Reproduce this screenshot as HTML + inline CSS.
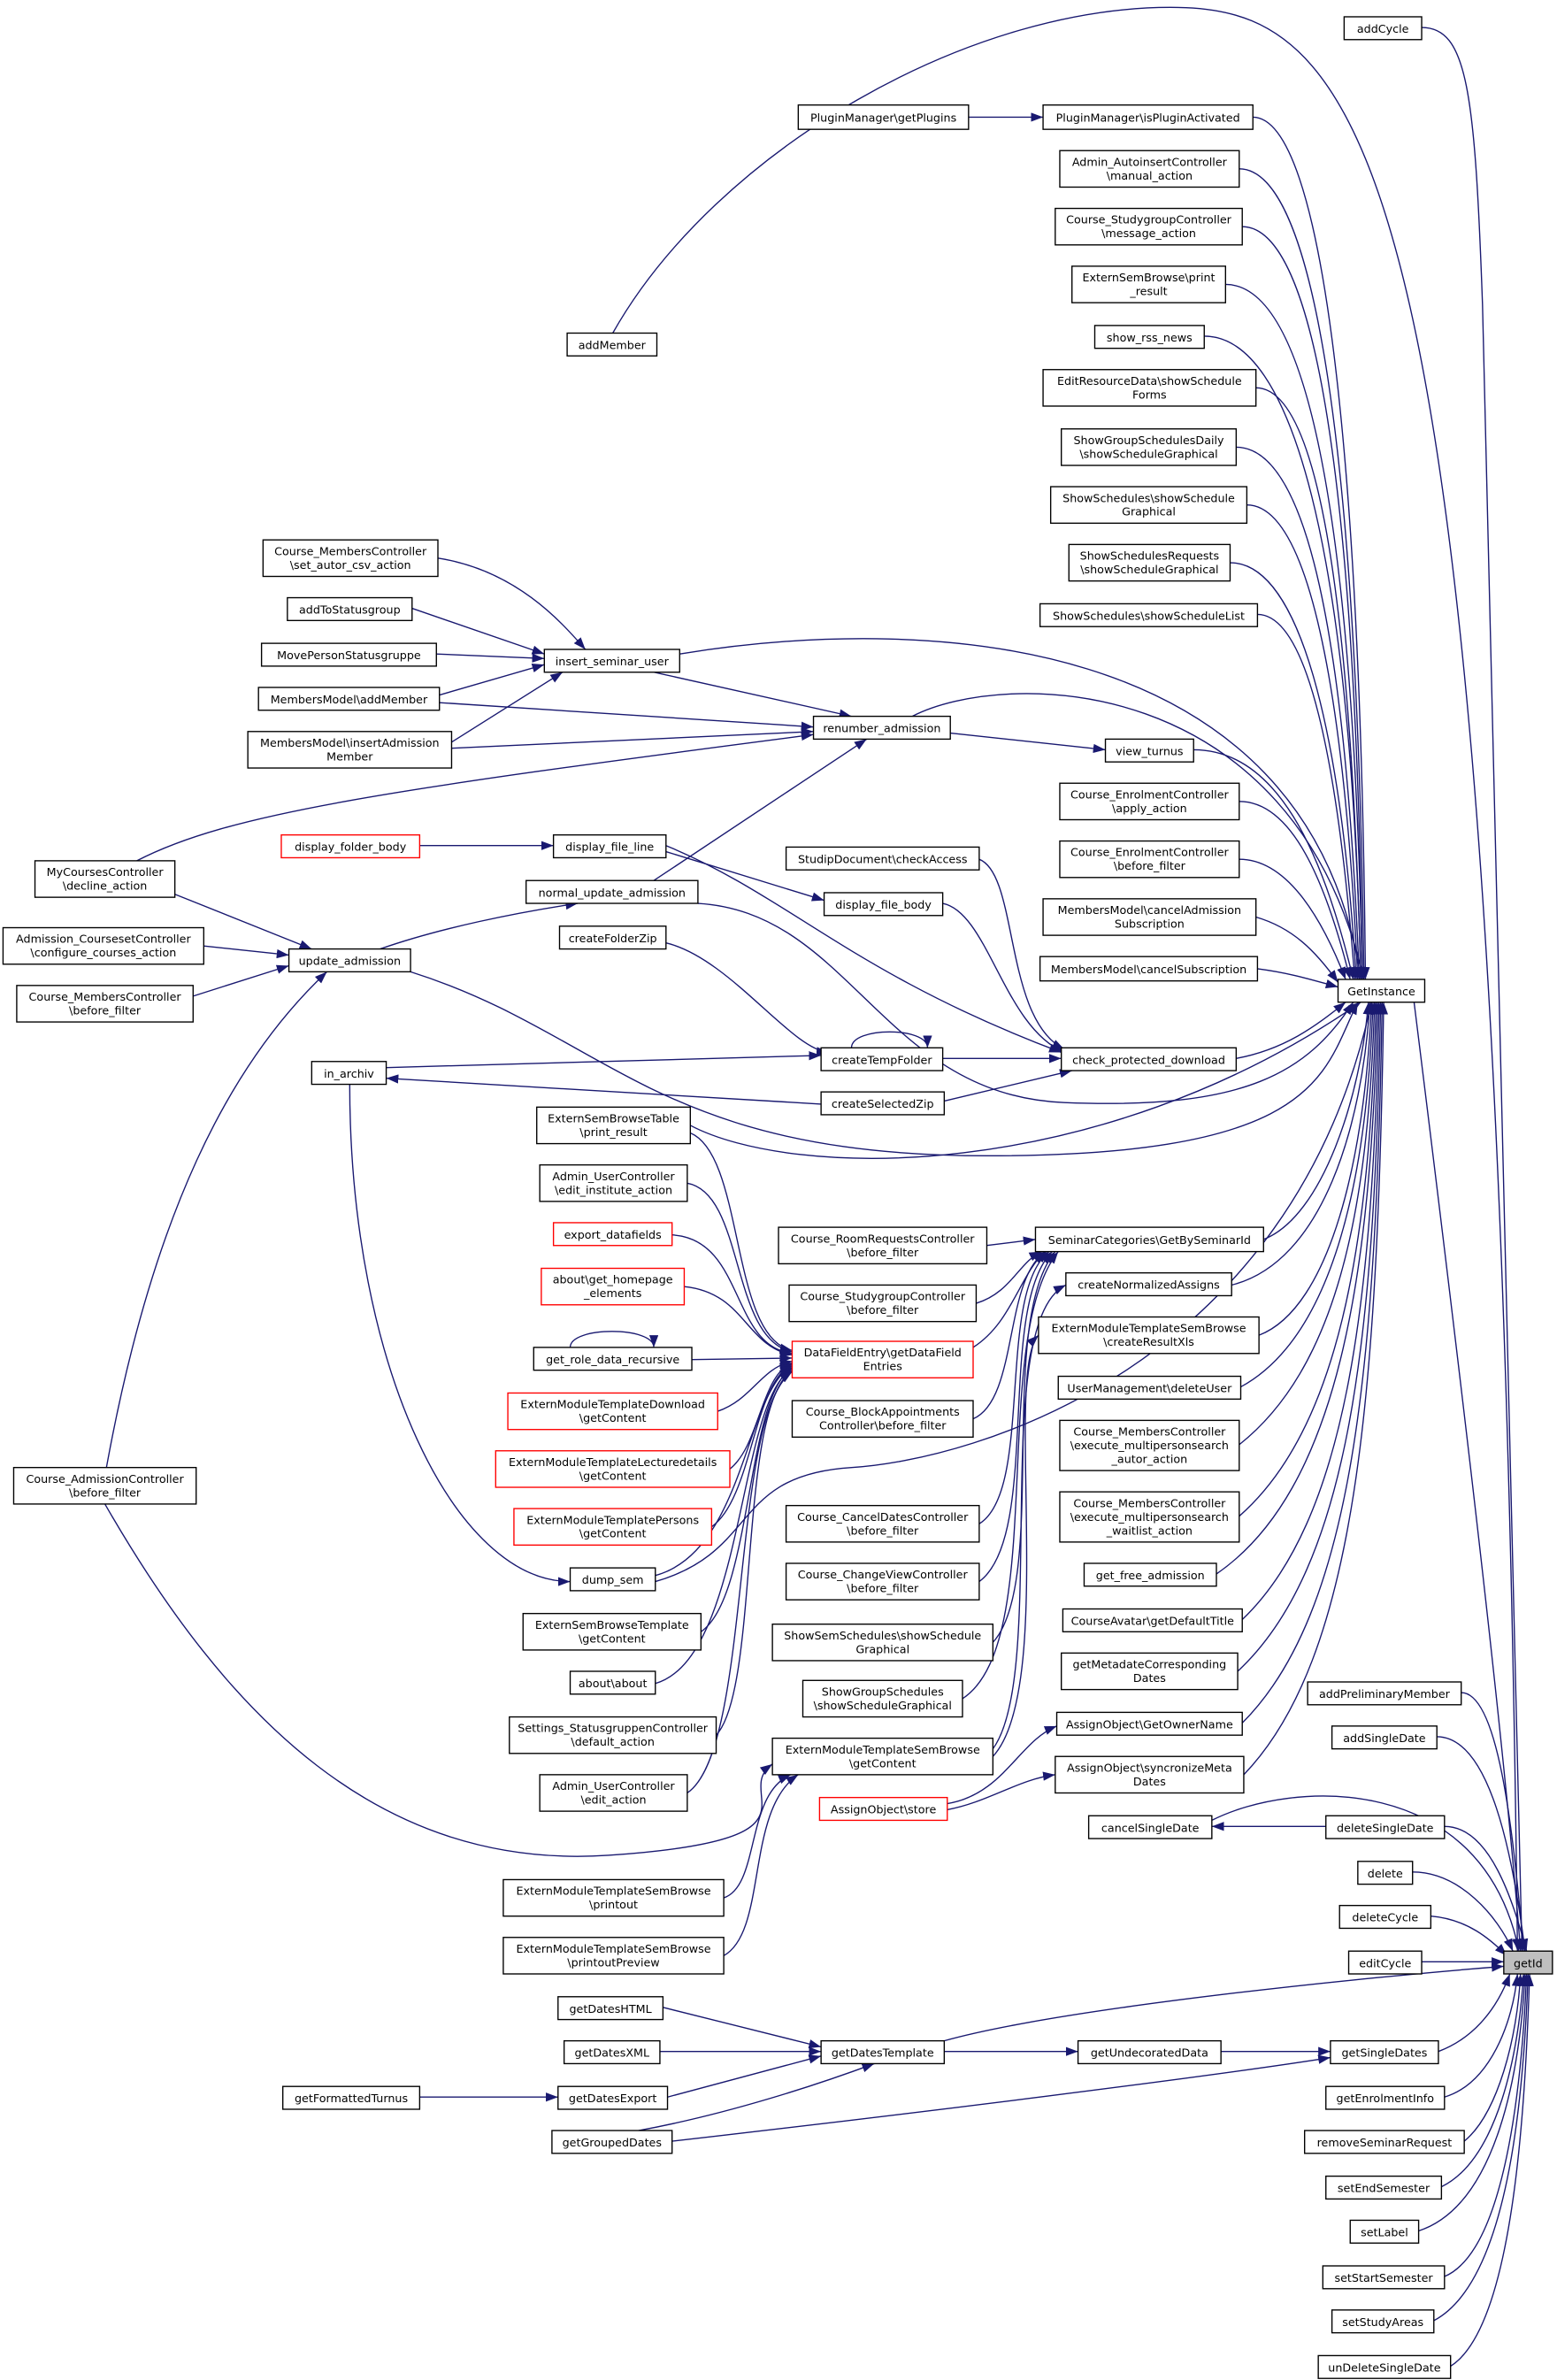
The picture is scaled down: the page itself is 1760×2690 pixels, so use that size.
<!DOCTYPE html>
<html><head><meta charset="utf-8"><style>
html,body{margin:0;padding:0;background:#fff}
svg{display:block}
text{font-family:"DejaVu Sans","Liberation Sans",sans-serif;font-size:7.4px;text-anchor:middle;fill:#000}
.n{fill:#fff;stroke:#000;stroke-width:0.8}
.r{fill:#fff;stroke:#f00;stroke-width:0.8}
.e{fill:none;stroke:#191970;stroke-width:0.8;marker-end:url(#a)}
</style></head><body>
<svg width="1760" height="2690" viewBox="0 0 1024 1565" xmlns="http://www.w3.org/2000/svg">
<defs><marker id="a" markerUnits="userSpaceOnUse" markerWidth="8" markerHeight="6" refX="8" refY="3" orient="auto"><path d="M0,0 L8,3 L0,6 z" fill="#191970"/></marker></defs>
<g>
<!-- to GetInstance from above -->
<path class="e" d="M824 77 C870 77, 895 300, 898 644"/>
<path class="e" d="M815 111 C865 111, 893 300, 897 644"/>
<path class="e" d="M817 149 C865 149, 892 320, 896 644"/>
<path class="e" d="M806 187 C860 187, 890 340, 896 644"/>
<path class="e" d="M792 221 C850 221, 888 360, 895 644"/>
<path class="e" d="M826 255 C865 255, 888 380, 895 644"/>
<path class="e" d="M813 294 C860 294, 885 420, 894 644"/>
<path class="e" d="M820 332 C860 332, 884 450, 893 644"/>
<path class="e" d="M809 370 C855 370, 882 480, 892 644"/>
<path class="e" d="M827 404 C860 404, 880 500, 891 644"/>
<path class="e" d="M785 493 C840 493, 870 560, 890 644"/>
<path class="e" d="M815 527 C850 527, 872 580, 888 644"/>
<path class="e" d="M815 565 C845 565, 868 600, 885 644"/>
<path class="e" d="M826 603 C850 610, 865 625, 880 646"/>
<path class="e" d="M827 637 C850 640, 865 645, 880 649"/>
<path class="e" d="M447 430 C600 405, 860 410, 895 644"/>
<path class="e" d="M600 471 C660 440, 850 440, 897 644"/>
<!-- to GetInstance from below -->
<path class="e" d="M813 696 C845 690, 865 675, 885 659"/>
<path class="e" d="M459 594 C560 600, 580 720, 700 725 S 860 705, 890 659"/>
<path class="e" d="M270 639 C400 680, 430 760, 650 760 S 870 705, 893 659"/>
<path class="e" d="M454 740 C520 775, 720 780, 895 659"/>
<path class="e" d="M831 815 C870 800, 895 720, 900 659"/>
<path class="e" d="M810 845 C870 830, 896 740, 901 659"/>
<path class="e" d="M828 878 C875 860, 898 760, 902 659"/>
<path class="e" d="M816 912 C875 880, 899 780, 903 659"/>
<path class="e" d="M815 950 C878 900, 900 800, 904 659"/>
<path class="e" d="M815 997 C880 940, 901 820, 905 659"/>
<path class="e" d="M800 1035 C880 980, 902 840, 906 659"/>
<path class="e" d="M817 1065 C885 1000, 903 860, 907 659"/>
<path class="e" d="M814 1099 C888 1030, 904 880, 908 659"/>
<path class="e" d="M817 1133 C890 1060, 905 900, 909 659"/>
<path class="e" d="M818 1167 C892 1090, 906 920, 910 659"/>
<path class="e" d="M431 1040 C500 1020, 480 970, 560 965 S 850 900, 902 659"/>
<!-- to getId -->
<path class="e" d="M930 659 C960 900, 990 1150, 1000 1283"/>
<path class="e" d="M935 18 C965 18, 970 60, 975 200 L1001 1283"/>
<path class="e" d="M403 219 C470 100, 640 0, 780 5 C900 10, 985 120, 998 1283"/>
<path class="e" d="M961 1113 C985 1113, 995 1200, 1002 1283"/>
<path class="e" d="M945 1142 C980 1142, 995 1220, 1003 1283"/>
<path class="e" d="M797 1197 C850 1170, 975 1165, 999 1283"/>
<path class="e" d="M950 1201 C980 1201, 995 1250, 1004 1283"/>
<path class="e" d="M929 1231 C960 1231, 985 1260, 995 1283"/>
<path class="e" d="M941 1260 C965 1262, 980 1275, 991 1286"/>
<path class="e" d="M935 1290 L989 1290"/>
<path class="e" d="M621 1342 C700 1320, 900 1300, 989 1293"/>
<path class="e" d="M946 1349 C970 1340, 985 1320, 993 1298"/>
<path class="e" d="M950 1379 C980 1370, 995 1330, 998 1298"/>
<path class="e" d="M963 1408 C985 1390, 998 1340, 1000 1298"/>
<path class="e" d="M948 1438 C985 1420, 999 1350, 1002 1298"/>
<path class="e" d="M933 1467 C985 1450, 1000 1360, 1003 1298"/>
<path class="e" d="M950 1497 C990 1480, 1001 1370, 1004 1298"/>
<path class="e" d="M943 1526 C992 1500, 1002 1380, 1005 1298"/>
<path class="e" d="M954 1556 C995 1530, 1003 1390, 1006 1298"/>
<path class="e" d="M872 1201 L797 1201"/>
<path class="e" d="M803 1349 L875 1349"/>
<path class="e" d="M621 1349 L709 1349"/>
<path class="e" d="M442 1408 C600 1390, 800 1365, 875 1353"/>
<path class="e" d="M436 1320 L540 1346"/>
<path class="e" d="M434 1349 L540 1349"/>
<path class="e" d="M439 1379 L540 1352"/>
<path class="e" d="M420 1401 C480 1390, 540 1370, 575 1357"/>
<path class="e" d="M276 1379 L367 1379"/>
<!-- assign/store -->
<path class="e" d="M623 1186 C660 1180, 670 1145, 695 1135"/>
<path class="e" d="M623 1190 C650 1185, 670 1170, 694 1167"/>
<path class="e" d="M476 1248 C500 1240, 490 1180, 520 1167"/>
<path class="e" d="M476 1286 C505 1270, 490 1190, 525 1167"/>
<path class="e" d="M653 1150 C690 1100, 650 870, 701 845"/>
<path class="e" d="M653 1155 C695 1110, 660 900, 683 878"/>
<!-- to SeminarCategories -->
<path class="e" d="M649 819 L681 815"/>
<path class="e" d="M642 857 C665 850, 670 830, 685 823"/>
<path class="e" d="M640 933 C670 920, 660 840, 688 823"/>
<path class="e" d="M644 1002 C680 980, 655 850, 690 823"/>
<path class="e" d="M644 1040 C685 1010, 655 860, 692 823"/>
<path class="e" d="M653 1080 C690 1040, 655 870, 694 823"/>
<path class="e" d="M633 1117 C690 1080, 650 880, 696 823"/>
<path class="e" d="M640 886 C665 870, 670 840, 687 823"/>
<path class="e" d="M69 989 C150 1130, 250 1230, 400 1220 S 480 1180, 508 1160"/>
<!-- to DataFieldEntry -->
<path class="e" d="M454 745 C490 760, 480 880, 521 888"/>
<path class="e" d="M452 778 C490 785, 480 880, 521 889"/>
<path class="e" d="M442 812 C490 815, 480 885, 521 890"/>
<path class="e" d="M450 846 C490 850, 490 885, 521 891"/>
<path class="e" d="M455 894 L521 893"/>
<path class="e" d="M472 928 C495 920, 500 900, 521 895"/>
<path class="e" d="M480 966 C500 950, 500 905, 521 896"/>
<path class="e" d="M468 1004 C495 985, 495 910, 521 897"/>
<path class="e" d="M431 1036 C490 1020, 490 915, 521 898"/>
<path class="e" d="M461 1073 C495 1050, 490 920, 521 899"/>
<path class="e" d="M431 1107 C490 1090, 485 920, 521 900"/>
<path class="e" d="M471 1141 C500 1110, 485 925, 521 901"/>
<path class="e" d="M452 1179 C495 1150, 480 930, 521 902"/>
<!-- left groups -->
<path class="e" d="M288 367 C340 375, 370 410, 385 427"/>
<path class="e" d="M271 400 L358 430"/>
<path class="e" d="M287 430 L358 433"/>
<path class="e" d="M289 457 L358 437"/>
<path class="e" d="M289 462 L535 478"/>
<path class="e" d="M297 488 L370 442"/>
<path class="e" d="M297 492 L535 481"/>
<path class="e" d="M430 442 L560 471"/>
<path class="e" d="M90 566 C150 535, 250 520, 535 483"/>
<path class="e" d="M115 588 L205 624"/>
<path class="e" d="M134 622 L190 628"/>
<path class="e" d="M127 655 L190 635"/>
<path class="e" d="M70 965 C100 800, 150 700, 215 639"/>
<path class="e" d="M250 624 C290 610, 340 600, 380 594"/>
<path class="e" d="M430 579 L570 486"/>
<path class="e" d="M276 556 L364 556"/>
<path class="e" d="M438 560 L542 592"/>
<path class="e" d="M438 556 C520 590, 560 640, 698 692"/>
<path class="e" d="M644 565 C670 575, 660 670, 700 690"/>
<path class="e" d="M620 594 C650 600, 660 675, 700 692"/>
<path class="e" d="M438 620 C480 630, 520 690, 545 692"/>
<path class="e" d="M620 696 L698 696"/>
<path class="e" d="M621 724 L705 704"/>
<path class="e" d="M254 702 L540 694"/>
<path class="e" d="M540 726 L254 709"/>
<path class="e" d="M230 713 C230 900, 300 1040, 375 1040"/>
<path class="e" d="M625 482 L727 493"/>
<path class="e" d="M637 77 L686 77"/>
<path class="e" d="M560 689 C560 675, 610 675, 610 689"/>
<path class="e" d="M375 886 C375 872, 430 872, 430 886"/>
</g>
<g>
<rect class="n" x="884" y="11" width="51" height="15"/><text x="909.5" y="21.5">addCycle</text>
<rect class="n" x="525" y="69" width="112" height="16"/><text x="581" y="80">PluginManager\getPlugins</text>
<rect class="n" x="686" y="69" width="138" height="16"/><text x="755" y="80">PluginManager\isPluginActivated</text>
<rect class="n" x="697" y="99" width="118" height="24"/><text x="756" y="109">Admin_AutoinsertController</text><text x="756" y="118">\manual_action</text>
<rect class="n" x="694" y="137" width="123" height="24"/><text x="755.5" y="147">Course_StudygroupController</text><text x="755.5" y="156">\message_action</text>
<rect class="n" x="705" y="175" width="101" height="24"/><text x="755.5" y="185">ExternSemBrowse\print</text><text x="755.5" y="194">_result</text>
<rect class="n" x="720" y="214" width="72" height="15"/><text x="756" y="224.5">show_rss_news</text>
<rect class="n" x="686" y="243" width="140" height="24"/><text x="756" y="253">EditResourceData\showSchedule</text><text x="756" y="262">Forms</text>
<rect class="n" x="698" y="282" width="115" height="24"/><text x="755.5" y="292">ShowGroupSchedulesDaily</text><text x="755.5" y="301">\showScheduleGraphical</text>
<rect class="n" x="691" y="320" width="129" height="24"/><text x="755.5" y="330">ShowSchedules\showSchedule</text><text x="755.5" y="339">Graphical</text>
<rect class="n" x="703" y="358" width="106" height="24"/><text x="756" y="368">ShowSchedulesRequests</text><text x="756" y="377">\showScheduleGraphical</text>
<rect class="n" x="684" y="397" width="143" height="15"/><text x="755.5" y="407.5">ShowSchedules\showScheduleList</text>
<rect class="n" x="727" y="486" width="58" height="15"/><text x="756" y="496.5">view_turnus</text>
<rect class="n" x="697" y="515" width="118" height="24"/><text x="756" y="525">Course_EnrolmentController</text><text x="756" y="534">\apply_action</text>
<rect class="n" x="697" y="553" width="118" height="24"/><text x="756" y="563">Course_EnrolmentController</text><text x="756" y="572">\before_filter</text>
<rect class="n" x="686" y="591" width="140" height="24"/><text x="756" y="601">MembersModel\cancelAdmission</text><text x="756" y="610">Subscription</text>
<rect class="n" x="684" y="629" width="143" height="16"/><text x="755.5" y="640">MembersModel\cancelSubscription</text>
<rect class="n" x="880" y="644" width="57" height="15"/><text x="908.5" y="654.5">GetInstance</text>
<rect class="n" x="698" y="689" width="115" height="15"/><text x="755.5" y="699.5">check_protected_download</text>
<rect class="n" x="681" y="807" width="150" height="16"/><text x="756" y="818">SeminarCategories\GetBySeminarId</text>
<rect class="n" x="701" y="837" width="109" height="15"/><text x="755.5" y="847.5">createNormalizedAssigns</text>
<rect class="n" x="683" y="866" width="145" height="24"/><text x="755.5" y="876">ExternModuleTemplateSemBrowse</text><text x="755.5" y="885">\createResultXls</text>
<rect class="n" x="696" y="905" width="120" height="15"/><text x="756" y="915.5">UserManagement\deleteUser</text>
<rect class="n" x="697" y="934" width="118" height="33"/><text x="756" y="944">Course_MembersController</text><text x="756" y="953">\execute_multipersonsearch</text><text x="756" y="962">_autor_action</text>
<rect class="n" x="697" y="981" width="118" height="33"/><text x="756" y="991">Course_MembersController</text><text x="756" y="1000">\execute_multipersonsearch</text><text x="756" y="1009">_waitlist_action</text>
<rect class="n" x="713" y="1028" width="87" height="15"/><text x="756.5" y="1038.5">get_free_admission</text>
<rect class="n" x="699" y="1058" width="118" height="15"/><text x="758" y="1068.5">CourseAvatar\getDefaultTitle</text>
<rect class="n" x="698" y="1087" width="116" height="24"/><text x="756" y="1097">getMetadateCorresponding</text><text x="756" y="1106">Dates</text>
<rect class="n" x="695" y="1126" width="122" height="15"/><text x="756" y="1136.5">AssignObject\GetOwnerName</text>
<rect class="n" x="694" y="1155" width="124" height="24"/><text x="756" y="1165">AssignObject\syncronizeMeta</text><text x="756" y="1174">Dates</text>
<rect class="r" x="539" y="1182" width="84" height="15"/><text x="581" y="1192.5">AssignObject\store</text>
<rect class="n" x="860" y="1106" width="101" height="15"/><text x="910.5" y="1116.5">addPreliminaryMember</text>
<rect class="n" x="876" y="1135" width="69" height="15"/><text x="910.5" y="1145.5">addSingleDate</text>
<rect class="n" x="716" y="1194" width="81" height="15"/><text x="756.5" y="1204.5">cancelSingleDate</text>
<rect class="n" x="872" y="1194" width="78" height="15"/><text x="911" y="1204.5">deleteSingleDate</text>
<rect class="n" x="893" y="1224" width="36" height="15"/><text x="911" y="1234.5">delete</text>
<rect class="n" x="881" y="1253" width="60" height="15"/><text x="911" y="1263.5">deleteCycle</text>
<rect class="n" x="887" y="1283" width="48" height="15"/><text x="911" y="1293.5">editCycle</text>
<rect x="989" y="1283" width="32" height="15" fill="#bfbfbf" stroke="#000" stroke-width="0.8"/><text x="1005" y="1293.5">getId</text>
<rect class="n" x="875" y="1342" width="71" height="15"/><text x="910.5" y="1352.5">getSingleDates</text>
<rect class="n" x="872" y="1372" width="78" height="15"/><text x="911" y="1382.5">getEnrolmentInfo</text>
<rect class="n" x="858" y="1401" width="105" height="15"/><text x="910.5" y="1411.5">removeSeminarRequest</text>
<rect class="n" x="872" y="1431" width="76" height="15"/><text x="910" y="1441.5">setEndSemester</text>
<rect class="n" x="888" y="1460" width="45" height="15"/><text x="910.5" y="1470.5">setLabel</text>
<rect class="n" x="870" y="1490" width="80" height="15"/><text x="910" y="1500.5">setStartSemester</text>
<rect class="n" x="876" y="1519" width="67" height="15"/><text x="909.5" y="1529.5">setStudyAreas</text>
<rect class="n" x="867" y="1549" width="87" height="15"/><text x="910.5" y="1559.5">unDeleteSingleDate</text>
<rect class="n" x="709" y="1342" width="94" height="15"/><text x="756" y="1352.5">getUndecoratedData</text>
<rect class="n" x="540" y="1342" width="81" height="15"/><text x="580.5" y="1352.5">getDatesTemplate</text>
<rect class="n" x="367" y="1313" width="69" height="15"/><text x="401.5" y="1323.5">getDatesHTML</text>
<rect class="n" x="371" y="1342" width="63" height="15"/><text x="402.5" y="1352.5">getDatesXML</text>
<rect class="n" x="367" y="1372" width="72" height="15"/><text x="403" y="1382.5">getDatesExport</text>
<rect class="n" x="186" y="1372" width="90" height="15"/><text x="231" y="1382.5">getFormattedTurnus</text>
<rect class="n" x="363" y="1401" width="79" height="15"/><text x="402.5" y="1411.5">getGroupedDates</text>
<rect class="n" x="373" y="219" width="59" height="15"/><text x="402.5" y="229.5">addMember</text>
<rect class="n" x="173" y="355" width="115" height="24"/><text x="230.5" y="365">Course_MembersController</text><text x="230.5" y="374">\set_autor_csv_action</text>
<rect class="n" x="189" y="393" width="82" height="15"/><text x="230" y="403.5">addToStatusgroup</text>
<rect class="n" x="172" y="423" width="115" height="15"/><text x="229.5" y="433.5">MovePersonStatusgruppe</text>
<rect class="n" x="170" y="452" width="119" height="15"/><text x="229.5" y="462.5">MembersModel\addMember</text>
<rect class="n" x="163" y="481" width="134" height="24"/><text x="230" y="491">MembersModel\insertAdmission</text><text x="230" y="500">Member</text>
<rect class="n" x="358" y="427" width="89" height="15"/><text x="402.5" y="437.5">insert_seminar_user</text>
<rect class="n" x="535" y="471" width="90" height="15"/><text x="580" y="481.5">renumber_admission</text>
<rect class="r" x="185" y="549" width="91" height="15"/><text x="230.5" y="559.5">display_folder_body</text>
<rect class="n" x="364" y="549" width="74" height="15"/><text x="401" y="559.5">display_file_line</text>
<rect class="n" x="517" y="557" width="127" height="15"/><text x="580.5" y="567.5">StudipDocument\checkAccess</text>
<rect class="n" x="542" y="587" width="78" height="15"/><text x="581" y="597.5">display_file_body</text>
<rect class="n" x="346" y="579" width="113" height="15"/><text x="402.5" y="589.5">normal_update_admission</text>
<rect class="n" x="23" y="566" width="92" height="24"/><text x="69" y="576">MyCoursesController</text><text x="69" y="585">\decline_action</text>
<rect class="n" x="2" y="610" width="132" height="24"/><text x="68" y="620">Admission_CoursesetController</text><text x="68" y="629">\configure_courses_action</text>
<rect class="n" x="190" y="624" width="80" height="15"/><text x="230" y="634.5">update_admission</text>
<rect class="n" x="11" y="648" width="116" height="24"/><text x="69" y="658">Course_MembersController</text><text x="69" y="667">\before_filter</text>
<rect class="n" x="368" y="609" width="70" height="15"/><text x="403" y="619.5">createFolderZip</text>
<rect class="n" x="540" y="689" width="80" height="15"/><text x="580" y="699.5">createTempFolder</text>
<rect class="n" x="205" y="698" width="49" height="15"/><text x="229.5" y="708.5">in_archiv</text>
<rect class="n" x="540" y="718" width="81" height="15"/><text x="580.5" y="728.5">createSelectedZip</text>
<rect class="n" x="353" y="728" width="101" height="24"/><text x="403.5" y="738">ExternSemBrowseTable</text><text x="403.5" y="747">\print_result</text>
<rect class="n" x="355" y="766" width="97" height="24"/><text x="403.5" y="776">Admin_UserController</text><text x="403.5" y="785">\edit_institute_action</text>
<rect class="r" x="364" y="804" width="78" height="15"/><text x="403" y="814.5">export_datafields</text>
<rect class="r" x="356" y="834" width="94" height="24"/><text x="403" y="844">about\get_homepage</text><text x="403" y="853">_elements</text>
<rect class="n" x="351" y="886" width="104" height="15"/><text x="403" y="896.5">get_role_data_recursive</text>
<rect class="r" x="521" y="882" width="119" height="24"/><text x="580.5" y="892">DataFieldEntry\getDataField</text><text x="580.5" y="901">Entries</text>
<rect class="n" x="512" y="807" width="137" height="24"/><text x="580.5" y="817">Course_RoomRequestsController</text><text x="580.5" y="826">\before_filter</text>
<rect class="n" x="519" y="845" width="123" height="24"/><text x="580.5" y="855">Course_StudygroupController</text><text x="580.5" y="864">\before_filter</text>
<rect class="n" x="521" y="921" width="119" height="24"/><text x="580.5" y="931">Course_BlockAppointments</text><text x="580.5" y="940">Controller\before_filter</text>
<rect class="r" x="334" y="916" width="138" height="24"/><text x="403" y="926">ExternModuleTemplateDownload</text><text x="403" y="935">\getContent</text>
<rect class="r" x="326" y="954" width="154" height="24"/><text x="403" y="964">ExternModuleTemplateLecturedetails</text><text x="403" y="973">\getContent</text>
<rect class="r" x="338" y="992" width="130" height="24"/><text x="403" y="1002">ExternModuleTemplatePersons</text><text x="403" y="1011">\getContent</text>
<rect class="n" x="9" y="965" width="120" height="24"/><text x="69" y="975">Course_AdmissionController</text><text x="69" y="984">\before_filter</text>
<rect class="n" x="375" y="1031" width="56" height="15"/><text x="403" y="1041.5">dump_sem</text>
<rect class="n" x="517" y="990" width="127" height="24"/><text x="580.5" y="1000">Course_CancelDatesController</text><text x="580.5" y="1009">\before_filter</text>
<rect class="n" x="517" y="1028" width="127" height="24"/><text x="580.5" y="1038">Course_ChangeViewController</text><text x="580.5" y="1047">\before_filter</text>
<rect class="n" x="344" y="1061" width="117" height="24"/><text x="402.5" y="1071">ExternSemBrowseTemplate</text><text x="402.5" y="1080">\getContent</text>
<rect class="n" x="508" y="1068" width="145" height="24"/><text x="580.5" y="1078">ShowSemSchedules\showSchedule</text><text x="580.5" y="1087">Graphical</text>
<rect class="n" x="375" y="1099" width="56" height="15"/><text x="403" y="1109.5">about\about</text>
<rect class="n" x="528" y="1105" width="105" height="24"/><text x="580.5" y="1115">ShowGroupSchedules</text><text x="580.5" y="1124">\showScheduleGraphical</text>
<rect class="n" x="335" y="1129" width="136" height="24"/><text x="403" y="1139">Settings_StatusgruppenController</text><text x="403" y="1148">\default_action</text>
<rect class="n" x="508" y="1143" width="145" height="24"/><text x="580.5" y="1153">ExternModuleTemplateSemBrowse</text><text x="580.5" y="1162">\getContent</text>
<rect class="n" x="355" y="1167" width="97" height="24"/><text x="403.5" y="1177">Admin_UserController</text><text x="403.5" y="1186">\edit_action</text>
<rect class="n" x="331" y="1236" width="145" height="24"/><text x="403.5" y="1246">ExternModuleTemplateSemBrowse</text><text x="403.5" y="1255">\printout</text>
<rect class="n" x="331" y="1274" width="145" height="24"/><text x="403.5" y="1284">ExternModuleTemplateSemBrowse</text><text x="403.5" y="1293">\printoutPreview</text>
</g>
</svg>
</body></html>
